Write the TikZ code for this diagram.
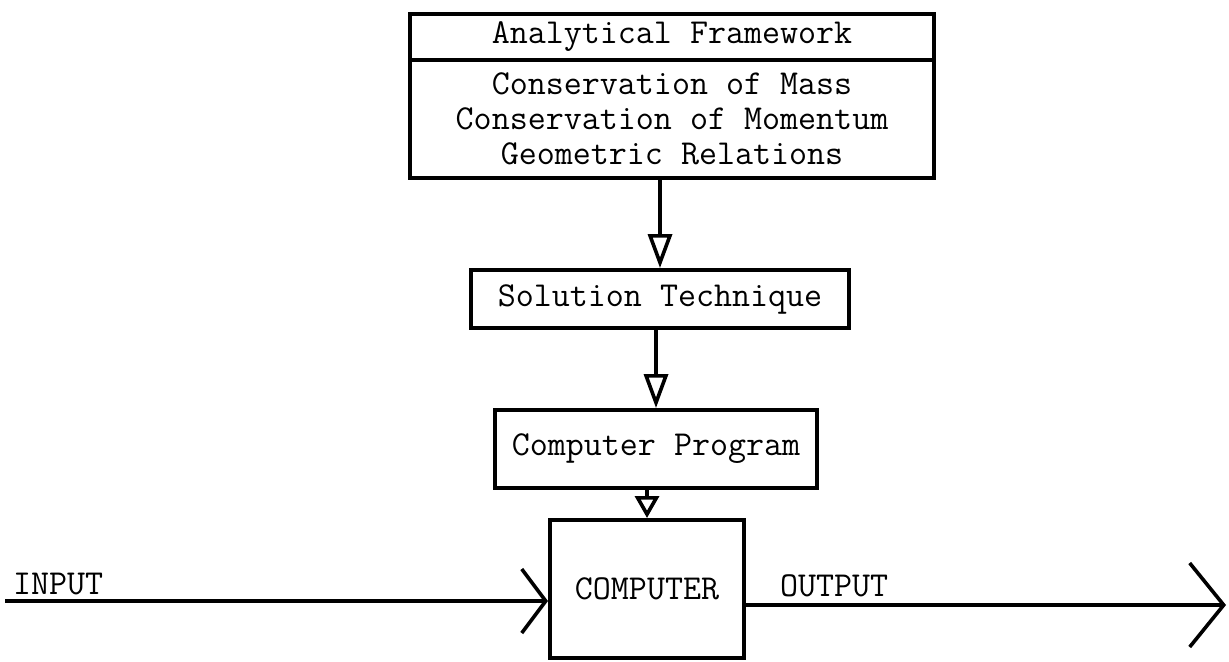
\documentclass[tikz,border=0pt]{standalone}
\usetikzlibrary{arrows.meta,positioning}
\tikzset{>=Latex,
  every node/.style={font=\ttfamily\fontsize{17.5}{17.5}\selectfont},
  stagebox/.style={draw,line width=2pt,inner sep=0pt,align=center},
  flow/.style={line width=1.6pt,-{Triangle[open,length=17pt,width=12pt,fill=white,line width=1.8pt]}},
  signal/.style={line width=1.6pt}}
\begin{document}
\begin{tikzpicture}[x=0.5pt,y=-0.5pt]
\useasboundingbox (0,0) rectangle (1229,661);

\node[stagebox,minimum width=262pt,minimum height=23pt] (frame) at (672,37) {Analytical Framework};
\node[stagebox,minimum width=262pt,minimum height=59pt] (laws) at (672,119)
  {Conservation of Mass\\Conservation of Momentum\\Geometric Relations};
\node[stagebox,minimum width=189pt,minimum height=29pt] (sol) at (660,299) {Solution Technique};
\node[stagebox,minimum width=161pt,minimum height=39pt] (prog) at (656,449) {Computer Program};
\node[stagebox,minimum width=97pt,minimum height=69pt] (comp) at (647,589) {COMPUTER};

\draw[flow] (sol.north |- laws.south) -- (sol.north);
\draw[flow] (prog.north |- sol.south) -- (prog.north);
\draw[line width=1.6pt,-{Triangle[open,length=11pt,width=12pt,fill=white,line width=1.8pt]}] (comp.north |- prog.south) -- (comp.north);

\coordinate (in) at (5,601);
\coordinate (out) at (1226,605);
\draw[signal,-{Straight Barb[length=12pt,width=32pt,line width=1.8pt]}] (in) -- (in -| comp.west);
\draw[signal,-{Straight Barb[length=17pt,width=42pt,line width=1.8pt]}] (out -| comp.east) -- (out);
\node[anchor=base west] (inlab) at (6,594) {INPUT};
\node[anchor=base west] (outlab) at (773,596) {OUTPUT};
\end{tikzpicture}
\end{document}
